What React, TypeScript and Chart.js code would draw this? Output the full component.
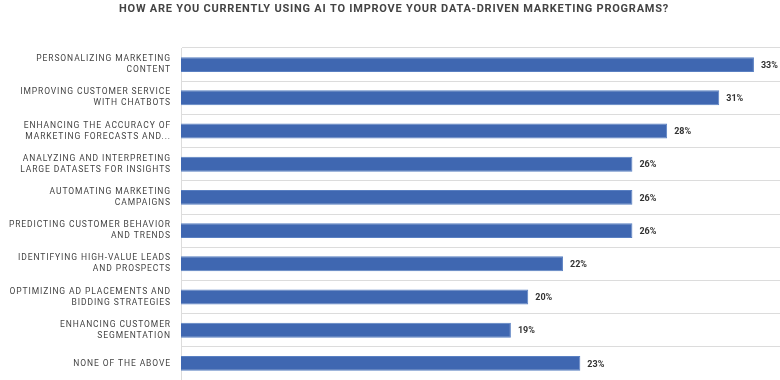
import React, { useEffect, useRef } from "react";
import { Chart, registerables } from "chart.js";
Chart.register(...registerables);

const TITLE = "HOW ARE YOU CURRENTLY USING AI TO IMPROVE YOUR DATA-DRIVEN MARKETING PROGRAMS?";
const categories: string[][] = [
  ["PERSONALIZING MARKETING", "CONTENT"],
  ["IMPROVING CUSTOMER SERVICE", "WITH CHATBOTS"],
  ["ENHANCING THE ACCURACY OF", "MARKETING FORECASTS AND..."],
  ["ANALYZING AND INTERPRETING", "LARGE DATASETS FOR INSIGHTS"],
  ["AUTOMATING MARKETING", "CAMPAIGNS"],
  ["PREDICTING CUSTOMER BEHAVIOR", "AND TRENDS"],
  ["IDENTIFYING HIGH-VALUE LEADS", "AND PROSPECTS"],
  ["OPTIMIZING AD PLACEMENTS AND", "BIDDING STRATEGIES"],
  ["ENHANCING CUSTOMER", "SEGMENTATION"],
  ["NONE OF THE ABOVE"],
];
const values: number[] = [33, 31, 28, 26, 26, 26, 22, 20, 19, 23];
const valueLabels: string[] = ["33%", "31%", "28%", "26%", "26%", "26%", "22%", "20%", "19%", "23%"];

const spacingPlugin = {
  id: "spacing",
  beforeDraw(chart: any) {
    (chart.ctx as any).letterSpacing = "0.9px";
  },
  afterDraw(chart: any) {
    const ctx = chart.ctx as any;
    ctx.save();
    ctx.letterSpacing = "0px";
    const meta = chart.getDatasetMeta(0);
    ctx.font = "bold 9px Roboto";
    ctx.fillStyle = "#333333";
    ctx.textAlign = "left";
    ctx.textBaseline = "middle";
    meta.data.forEach((bar: any, i: number) => {
      ctx.fillText(valueLabels[i], bar.x + 7, bar.y + 1);
    });
    ctx.letterSpacing = "0.77px";
    ctx.font = "bold 11px Roboto";
    ctx.fillStyle = "#444444";
    ctx.textAlign = "center";
    ctx.fillText(TITLE, 394, 9);
    ctx.restore();
    ctx.letterSpacing = "0px";
  },
};

export default function App() {
  const ref = useRef<HTMLCanvasElement>(null);
  useEffect(() => {
    const chart = new Chart(ref.current!, {
      type: "bar",
      data: {
        labels: categories,
        datasets: [
          {
            data: values,
            backgroundColor: "#3F67B1",
            borderColor: "#5A80C2",
            borderWidth: 1,
            barPercentage: 0.45,
            categoryPercentage: 1,
          },
        ],
      },
      options: {
        indexAxis: "y",
        animation: false,
        responsive: true,
        maintainAspectRatio: false,
        layout: { padding: { top: 48, left: 0, right: 0, bottom: 0 } },
        plugins: { legend: { display: false }, title: { display: false }, tooltip: { enabled: false } },
        scales: {
          x: { display: false, min: 0, max: 34.5 },
          y: {
            afterFit: (s: any) => {
              s.width = 181;
              s.paddingTop = 0;
              s.paddingBottom = 0;
            },
            grid: { offset: true, drawTicks: false, color: "#dcdcdc", lineWidth: 1 },
            border: { display: true, color: "#dcdcdc" },
            ticks: {
              padding: 10,
              color: "#444444",
              font: { family: "Roboto", size: 8.5, lineHeight: 1.3 },
            },
          },
        },
      },
      plugins: [spacingPlugin],
    });
    return () => chart.destroy();
  }, []);
  return (
    <div style={{ position: "fixed", left: 0, top: 0, width: 780, height: 380, background: "#fff" }}>
      <canvas ref={ref} />
    </div>
  );
}
